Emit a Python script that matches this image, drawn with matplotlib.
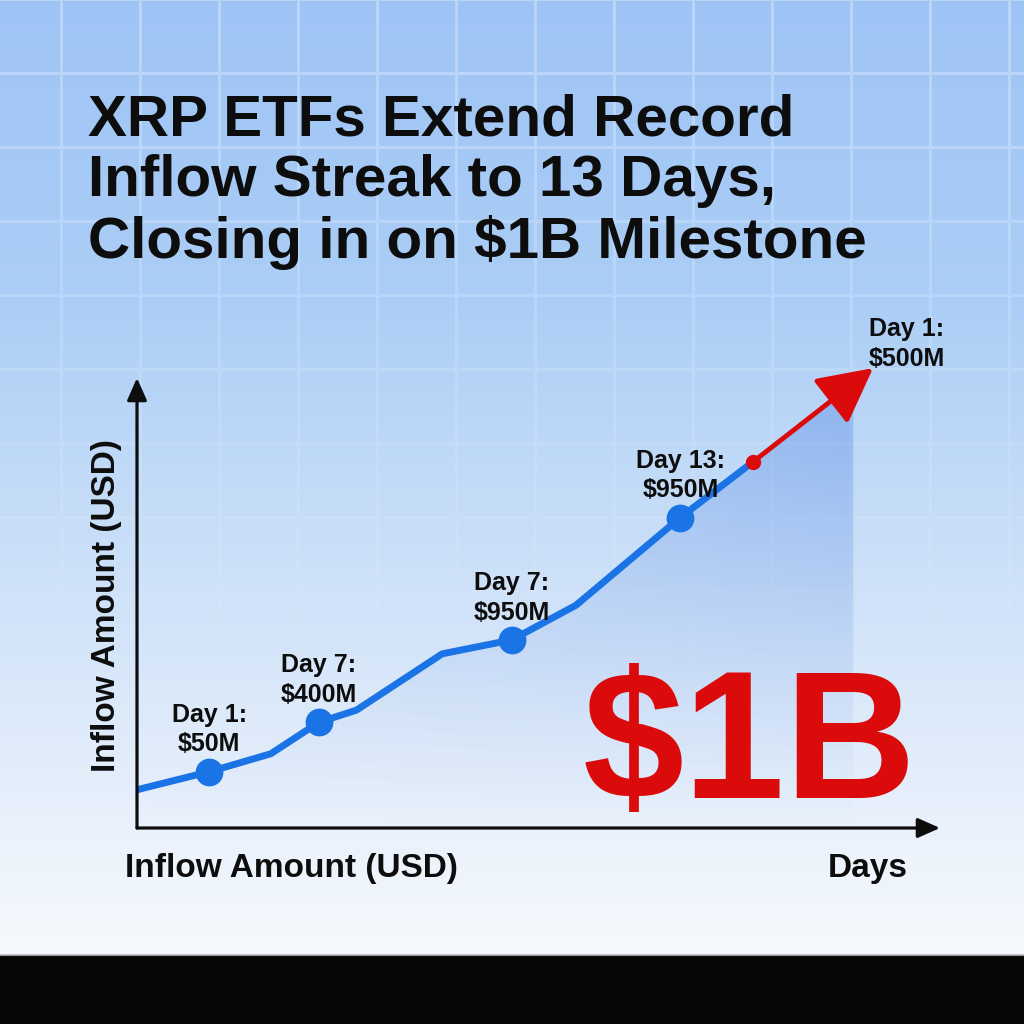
import numpy as np
import matplotlib.pyplot as plt
from matplotlib.patches import Polygon, Rectangle

# %% Data
days = [0, 1.35, 2.5, 3.4, 4.1, 5.7, 7.0, 8.2, 10.15, 11.5]
inflow = [85, 125, 165, 235, 262, 387, 418, 495, 690, 813]
marked = [1, 3, 6, 8]
marker_labels = ["Day 1:\n$50M", "Day 7:\n$400M", "Day 7:\n$950M", "Day 13:\n$950M"]
arrow_day, arrow_inflow = 13.75, 1022
arrow_label = "Day 1:\n$500M"
fill_end = 13.38

title = "XRP ETFs Extend Record\nInflow Streak to 13 Days,\nClosing in on $1B Milestone"
y_label = "Inflow Amount (USD)"
x_label = "Inflow Amount (USD)"
x_name = "Days"
big_text = "$1B"

# %% Style
plt.rcParams['font.family'] = ['Liberation Sans', 'DejaVu Sans']
blue = '#1b74e6'
red = '#dc0b0b'
ink = '#0d0d0d'

fig = plt.figure(figsize=(10.24, 10.24), dpi=100)

# background: vertical gradient with a fading white grid
H = W = 1024
rows = np.arange(H) / H
stops_y = [0, 0.3, 0.5, 0.7, 0.85, 0.93]
stops_c = np.array([[158, 196, 245], [172, 206, 246], [198, 221, 248],
                    [221, 234, 250], [238, 244, 252], [246, 249, 253]]) / 255
bgimg = np.zeros((H, W, 3))
for k in range(3):
    bgimg[:, :, k] = np.interp(rows, stops_y, stops_c[:, k])[:, None]
yy, xx = np.mgrid[0:H, 0:W]
grid = (((xx - 60) % 79) < 2.5) | (((yy - 72) % 74) < 2.5)
a = 0.3 * np.clip(1 - yy / 800, 0, 1) ** 1.3 * grid
bgimg = bgimg * (1 - a[:, :, None]) + a[:, :, None]

bg = fig.add_axes([0, 0, 1, 1])
bg.imshow(bgimg, extent=(0, W, H, 0), aspect='auto')
bg.add_patch(Rectangle((0, 955), W, 70, color='#060606'))
bg.plot([0, W], [955, 955], color='#9a9a9a', lw=0.8)
bg.set_xlim(0, W)
bg.set_ylim(H, 0)
bg.axis('off')

# %% Chart
ax = fig.add_axes([137 / W, 196 / H, 803 / W, 450 / H])
ax.set_xlim(0, 15)
ax.set_ylim(0, 1000)
ax.axis('off')

# gradient fill under the curve
fx = days + [fill_end, fill_end, 0]
fy = inflow + [inflow[-1] + (fill_end - days[-1]) * (arrow_inflow - inflow[-1]) / (arrow_day - days[-1]), 0, 0]
poly = Polygon(np.column_stack((fx, fy)), closed=True, facecolor='none', edgecolor='none')
ax.add_patch(poly)
gy, gx = np.mgrid[0:1:200j, 0:1:200j]
grad = np.zeros((200, 200, 4))
grad[:, :, 0] = 70 / 255
grad[:, :, 1] = 125 / 255
grad[:, :, 2] = 225 / 255
grad[:, :, 3] = 0.38 * (gy ** 1.1) * (0.45 + 0.55 * gx)
im = ax.imshow(grad, extent=(0, fill_end, 0, 1000), origin='lower', aspect='auto', zorder=1)
im.set_clip_path(poly)

ax.plot(days, inflow, color=blue, lw=5, solid_capstyle='round', zorder=3)
ax.plot([days[i] for i in marked], [inflow[i] for i in marked], 'o',
        color=blue, ms=19, zorder=4)
for i, lab in zip(marked, marker_labels):
    ax.annotate(lab, (days[i], inflow[i]), xytext=(0, 11), textcoords='offset points',
                ha='center', va='bottom', fontsize=18, weight='bold', color=ink,
                linespacing=1.3, zorder=5)

# red arrow towards the milestone
ax.annotate('', xy=(arrow_day, arrow_inflow), xytext=(days[-1], inflow[-1]),
            arrowprops=dict(arrowstyle='-|>,head_length=1.35,head_width=0.7',
                            mutation_scale=25, lw=3.5, color=red,
                            shrinkA=0, shrinkB=0),
            annotation_clip=False, zorder=5)
ax.plot(days[-1], inflow[-1], 'o', color=red, ms=10, zorder=6, clip_on=False)
ax.annotate(arrow_label, (arrow_day, arrow_inflow), xytext=(-3, -2),
            textcoords='offset points', ha='left', va='bottom', fontsize=18,
            weight='bold', color=ink, linespacing=1.3, annotation_clip=False)

# axis arrows
arrow_kw = dict(arrowstyle='-|>,head_length=0.9,head_width=0.4', mutation_scale=15,
                lw=2.3, color=ink, shrinkA=0, shrinkB=0)
ax.annotate('', xy=(1, 0), xytext=(0, 0), xycoords='axes fraction', arrowprops=arrow_kw)
ax.annotate('', xy=(0, 1), xytext=(0, 0), xycoords='axes fraction', arrowprops=arrow_kw)

# %% Text
fig.text(88 / W, 1 - 93 / H, title, ha='left', va='top', fontsize=42,
         weight='bold', color=ink, linespacing=1.17)
fig.text(107 / W, 1 - 606 / H, y_label, rotation=90, ha='center', va='center',
         fontsize=24, weight='bold', color=ink)
fig.text(291 / W, 1 - 868 / H, x_label, ha='center', va='center',
         fontsize=24, weight='bold', color=ink)
fig.text(868 / W, 1 - 868 / H, x_name, ha='center', va='center',
         fontsize=24, weight='bold', color=ink)
fig.text(583 / W, 1 - 798 / H, big_text, ha='left', va='baseline',
         fontsize=131, weight='bold', color=red, zorder=2)

fig.savefig('out.png', dpi=100)
